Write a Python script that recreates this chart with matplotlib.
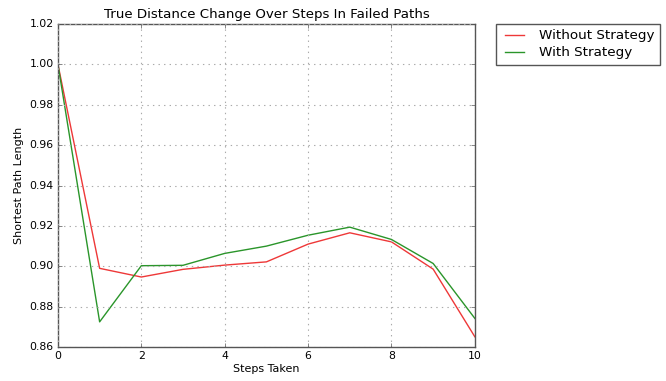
import matplotlib
matplotlib.use('Agg')
import matplotlib.pyplot as plt

steps = list(range(11))
without_strategy = [1.000, 0.8990, 0.8947, 0.8985, 0.9006, 0.9022,
                    0.9110, 0.9166, 0.9121, 0.8986, 0.8651]
with_strategy = [1.000, 0.8725, 0.9003, 0.9005, 0.9064, 0.9100,
                 0.9154, 0.9194, 0.9133, 0.9014, 0.8742]

plt.style.use('classic')
plt.rcParams['font.family'] = 'DejaVu Sans'

fig = plt.figure(figsize=(6.66, 3.81), dpi=100, facecolor='white')
ax = fig.add_axes([0.087, 0.089, 0.626, 0.848])

ax.plot(steps, without_strategy, color='#ee3838', lw=1.0, label='Without Strategy')
ax.plot(steps, with_strategy, color='#2a952a', lw=1.0, label='With Strategy')

ax.set_xlim(0, 10)
ax.set_ylim(0.86, 1.02)
ax.set_xticks(range(0, 11, 2))
ax.set_yticks([0.86 + 0.02 * i for i in range(9)])
ax.yaxis.set_major_formatter(matplotlib.ticker.FormatStrFormatter('%.2f'))
ax.tick_params(labelsize=7.8, direction='in', length=3, pad=3, color='#555555')
ax.grid(True, color='#aaaaaa', linestyle=':', linewidth=0.8)
for s in ax.spines.values():
    s.set_color('#555555')

ax.set_title('True Distance Change Over Steps In Failed Paths', fontsize=9.6, pad=4)
ax.set_xlabel('Steps Taken', fontsize=8, labelpad=2)
ax.set_ylabel('Shortest Path Length', fontsize=8, labelpad=4)

leg = ax.legend(loc='upper left', bbox_to_anchor=(1.05, 1.0), fontsize=9.7,
                frameon=True, fancybox=False, borderaxespad=0, handlelength=2.0,
                labelspacing=0.3)
leg.get_frame().set_edgecolor('#555555')

fig.savefig('out.png', dpi=100, facecolor='white')
